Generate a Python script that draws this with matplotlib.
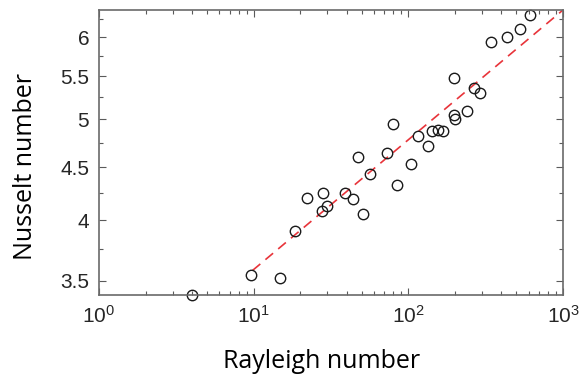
import matplotlib
matplotlib.use('Agg')
import matplotlib.pyplot as plt
from matplotlib.ticker import FixedLocator, NullFormatter, LogLocator, FixedFormatter

# Data
rayleigh = [4.0, 9.6, 14.9, 18.5, 22.2, 27.9, 27.5, 29.6, 38.9, 43.6,
            47.2, 50.9, 56.8, 72.4, 79.5, 84, 104, 115, 134, 142,
            155, 168, 197, 197, 200, 238, 267, 289, 344, 436, 526, 608]
nusselt = [3.39, 3.54, 3.52, 3.91, 4.20, 4.25, 4.08, 4.13, 4.25, 4.19,
           4.60, 4.06, 4.43, 4.64, 4.95, 4.32, 4.53, 4.82, 4.71, 4.87,
           4.88, 4.87, 5.48, 5.05, 5.01, 5.09, 5.36, 5.30, 5.93, 6.00, 6.11, 6.30]

# fitted power law line (end points)
fit_x = [9.85, 1000]
fit_y = [3.58, 6.37]

y_ticks = [3.5, 4, 4.5, 5, 5.5, 6]
y_labels = ['3.5', '4', '4.5', '5', '5.5', '6']
y_minor = [3.75, 4.25, 4.75, 5.25, 5.75, 6.25]
x_ticks = [1, 10, 100, 1000]
x_labels = ['$10^0$', '$10^1$', '$10^2$', '$10^3$']

plt.rcParams['font.family'] = ['Liberation Sans', 'DejaVu Sans']
plt.rcParams['mathtext.fontset'] = 'custom'
plt.rcParams['mathtext.rm'] = 'Liberation Sans'
plt.rcParams['mathtext.it'] = 'Liberation Sans'

fig = plt.figure(figsize=(5.87, 3.76), dpi=100)
ax = fig.add_axes([99/587, 81/376, 464/587, 285/376])

ax.plot(fit_x, fit_y, '--', color='#e8343a', lw=1.2, dashes=(6, 4))
ax.plot(rayleigh, nusselt, 'o', mfc='none', mec='#1a1a1a', ms=7.5, mew=1.0, clip_on=False)

ax.set_xscale('log')
ax.set_yscale('log')
ax.set_xlim(1, 1000)
ax.set_ylim(3.39, 6.37)

ax.xaxis.set_major_locator(FixedLocator(x_ticks))
ax.xaxis.set_major_formatter(FixedFormatter(x_labels))
ax.xaxis.set_minor_locator(LogLocator(base=10, subs=range(2, 10)))
ax.xaxis.set_minor_formatter(NullFormatter())

ax.yaxis.set_major_locator(FixedLocator(y_ticks))
ax.yaxis.set_major_formatter(FixedFormatter(y_labels))
ax.yaxis.set_minor_locator(FixedLocator(y_minor))
ax.yaxis.set_minor_formatter(NullFormatter())

for s in ax.spines.values():
    s.set_color('#6a6a6a')
    s.set_linewidth(1.2)
ax.tick_params(which='both', direction='in', top=True, right=True, color='#5a5a5a',
               labelsize=15, labelcolor='#262626')
ax.tick_params(which='major', length=5, width=0.8, pad=7)
ax.tick_params(which='minor', length=3, width=0.8)

fig.text(322/587, 1 - 368/376, 'Rayleigh number', ha='center', va='baseline',
         fontsize=18, family=['Open Sans', 'DejaVu Sans'], color='black')
fig.text(26/587, 1 - 166/376, 'Nusselt number', ha='center', va='center', rotation=90,
         fontsize=18, family=['Open Sans', 'DejaVu Sans'], color='black')

fig.savefig('out.png', dpi=100)
